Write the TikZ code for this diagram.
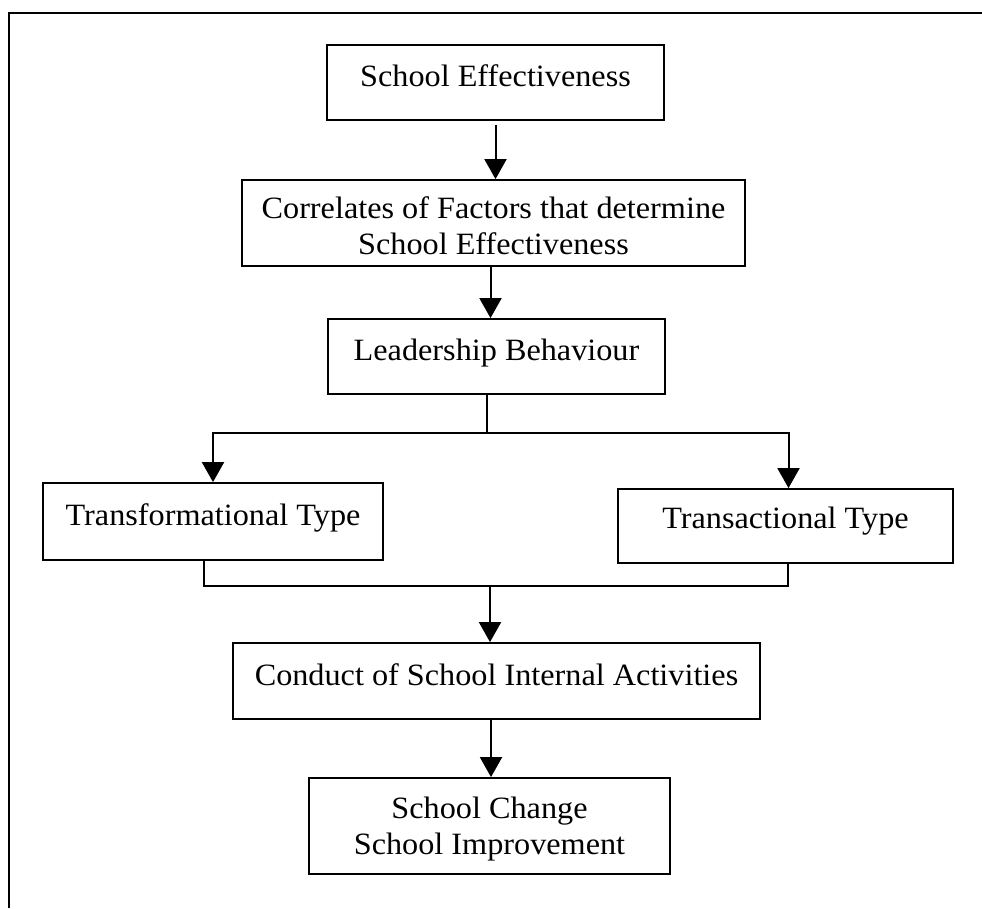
\documentclass[tikz,border=0pt]{standalone}
\usepackage{fontspec}
\setmainfont{Liberation Serif}[FakeStretch=1.04]
\usetikzlibrary{arrows.meta}

\begin{document}
\begin{tikzpicture}[x=1pt,y=-1pt,
    box/.style={draw,line width=1.8pt,inner sep=0pt,align=center,
      font=\fontsize{31}{36}\selectfont},
    oneline/.style={text height=21pt,text depth=#1},
    arr/.style={-{Triangle[length=20pt,width=22pt]},line width=2pt},
    link/.style={line width=2pt}]
    \useasboundingbox (0,0) rectangle (982,908);

    % outer frame, only its left and top sides show
    \draw[line width=1.6pt] (9,908) -- (9,13) -- (982,13);

    \node[box,oneline=14pt,minimum width=337pt,minimum height=75pt] (effect) at (495.5,82.5) {School Effectiveness};
    \node[box,minimum width=503pt,minimum height=86pt] (corr) at (493.5,223) {\rule{0pt}{28pt}Correlates of Factors that determine\\School Effectiveness};
    \node[box,oneline=14pt,minimum width=337pt,minimum height=75pt] (lead) at (496.5,356.5) {Leadership Behaviour};
    \node[box,oneline=14pt,minimum width=340pt,minimum height=77pt] (transf) at (213,521.5) {Transformational Type};
    \node[box,oneline=17pt,minimum width=335pt,minimum height=74pt] (transa) at (785.5,526) {Transactional Type};
    \node[box,oneline=13pt,minimum width=527pt,minimum height=76pt] (conduct) at (496.5,681) {Conduct of School Internal Activities};
    \node[box,minimum width=361pt,minimum height=96pt] (change) at (489.5,826) {\rule{0pt}{28pt}School Change\\School Improvement};

    \coordinate (split) at (487,433);
    \coordinate (join) at (490,586);
    \coordinate (leftfoot) at (204,560);

    \draw[arr,shorten <=4pt] (effect.south) -- (effect.south |- corr.north);
    \draw[arr] ([xshift=-3pt]corr.south) -- ([xshift=-3pt]corr.south |- lead.north);

    \draw[link] (split |- lead.south) -- (split);
    \draw[arr] (split) -| (transf.north);
    \draw[arr] (split) -| ([xshift=3pt]transa.north);

    \draw[link] (leftfoot) |- (join);
    \draw[link] ([xshift=2.5pt]transa.south) |- (join);
    \draw[arr] (join) -- (join |- conduct.north);

    \draw[arr] ([xshift=1.5pt]change.north |- conduct.south) -- ([xshift=1.5pt]change.north);
  \end{tikzpicture}
\end{document}
